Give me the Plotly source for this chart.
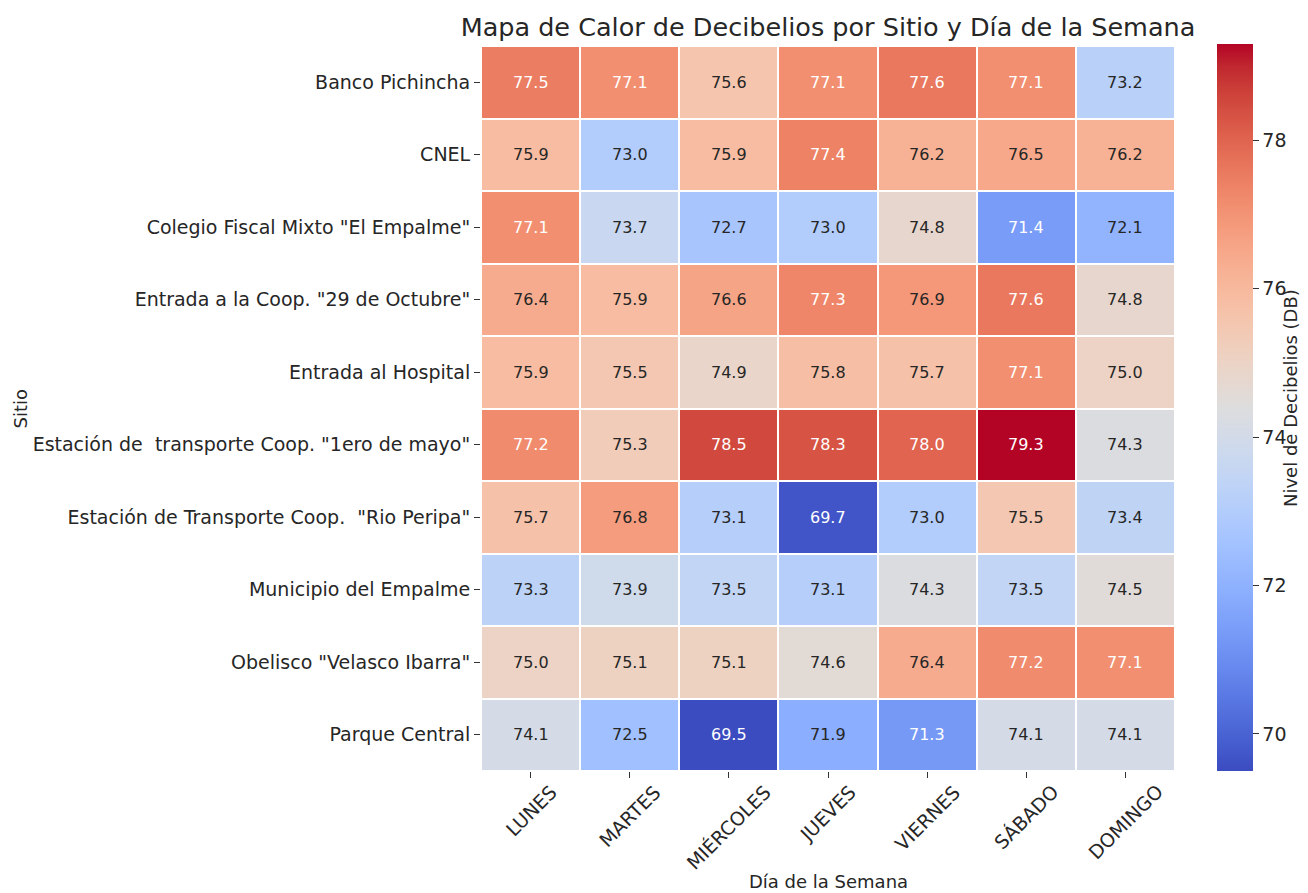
import plotly.graph_objects as go

sitios = [
    "Banco Pichincha",
    "CNEL",
    'Colegio Fiscal Mixto "El Empalme"',
    'Entrada a la Coop. "29 de Octubre"',
    "Entrada al Hospital",
    'Estación de  transporte Coop. "1ero de mayo"',
    'Estación de Transporte Coop.  "Rio Peripa"',
    "Municipio del Empalme",
    'Obelisco "Velasco Ibarra"',
    "Parque Central",
]
dias = ["LUNES", "MARTES", "MIÉRCOLES", "JUEVES", "VIERNES", "SÁBADO", "DOMINGO"]

banco_pichincha = [77.5, 77.1, 75.6, 77.1, 77.6, 77.1, 73.2]
cnel = [75.9, 73.0, 75.9, 77.4, 76.2, 76.5, 76.2]
colegio_fiscal = [77.1, 73.7, 72.7, 73.0, 74.8, 71.4, 72.1]
entrada_coop_29 = [76.4, 75.9, 76.6, 77.3, 76.9, 77.6, 74.8]
entrada_hospital = [75.9, 75.5, 74.9, 75.8, 75.7, 77.1, 75.0]
estacion_1ero_mayo = [77.2, 75.3, 78.5, 78.3, 78.0, 79.3, 74.3]
estacion_rio_peripa = [75.7, 76.8, 73.1, 69.7, 73.0, 75.5, 73.4]
municipio = [73.3, 73.9, 73.5, 73.1, 74.3, 73.5, 74.5]
obelisco = [75.0, 75.1, 75.1, 74.6, 76.4, 77.2, 77.1]
parque_central = [74.1, 72.5, 69.5, 71.9, 71.3, 74.1, 74.1]

z = [banco_pichincha, cnel, colegio_fiscal, entrada_coop_29, entrada_hospital,
     estacion_1ero_mayo, estacion_rio_peripa, municipio, obelisco, parque_central]

coolwarm = [
    (59, 76, 192), (68, 90, 204), (77, 104, 215), (87, 117, 225), (98, 130, 234),
    (108, 142, 241), (119, 154, 247), (130, 165, 251), (141, 176, 254), (152, 185, 255),
    (163, 194, 255), (174, 201, 253), (184, 208, 249), (194, 213, 244), (204, 217, 238),
    (213, 219, 230), (221, 221, 221), (229, 216, 209), (236, 211, 197), (241, 204, 184),
    (245, 196, 172), (247, 187, 160), (247, 177, 148), (247, 166, 136), (244, 154, 123),
    (241, 141, 111), (236, 127, 99), (229, 112, 88), (222, 96, 77), (213, 80, 66),
    (203, 62, 56), (192, 40, 47), (180, 4, 38),
]
n = len(coolwarm) - 1
colorscale = [[i / n, "rgb(%d,%d,%d)" % c] for i, c in enumerate(coolwarm)]

flat = [v for row in z for v in row]
zmin, zmax = min(flat), max(flat)


def cell_rgb(v):
    t = (v - zmin) / (zmax - zmin) * n
    i = min(int(t), n - 1)
    f = t - i
    a, b = coolwarm[i], coolwarm[i + 1]
    return [(a[k] + (b[k] - a[k]) * f) / 255 for k in range(3)]


def lum(rgb):
    out = []
    for c in rgb:
        out.append(c / 12.92 if c <= 0.03928 else ((c + 0.055) / 1.055) ** 2.4)
    return 0.2126 * out[0] + 0.7152 * out[1] + 0.0722 * out[2]


FONT = "DejaVu Sans"
TXT = "#262626"

W, H = 1300, 885
L, T, PW, PH = 473, 38, 694, 725

fig = go.Figure()
fig.add_trace(go.Heatmap(
    z=z, x=dias, y=sitios,
    colorscale=colorscale, zmin=zmin, zmax=zmax,
    xgap=2, ygap=2,
    hoverongaps=False,
    colorbar=dict(
        x=(1209 - L) / PW, xanchor="left", xpad=0,
        y=(T + PH - 763) / PH, yanchor="bottom", ypad=0,
        len=(763 - 36) / PH, lenmode="fraction", thickness=36,
        outlinewidth=0,
        tickvals=[70, 72, 74, 76, 78],
        ticks="outside", ticklen=6, tickwidth=1, tickcolor="#333",
        tickfont=dict(family=FONT, size=19, color=TXT),
    ),
))

annotations = []
for r, site in enumerate(sitios):
    for c, day in enumerate(dias):
        v = z[r][c]
        color = "white" if lum(cell_rgb(v)) < 0.408 else TXT
        annotations.append(dict(
            x=day, y=site, text="%.1f" % v, showarrow=False,
            font=dict(family=FONT, size=16, color=color),
        ))

# rotated x tick labels, centred under each tick (matplotlib style)
for day in dias:
    annotations.append(dict(
        x=day, xref="x", yref="paper", y=(T + PH - 770) / PH,
        text=day, textangle=-45, showarrow=False,
        xanchor="center", yanchor="top",
        font=dict(family=FONT, size=19, color=TXT),
    ))

annotations.append(dict(
    text="Sitio", xref="paper", yref="paper",
    x=(12 - L) / PW, y=0.5, xanchor="center", yanchor="middle",
    textangle=-90, showarrow=False,
    font=dict(family=FONT, size=18, color=TXT),
))
annotations.append(dict(
    text="Día de la Semana", xref="paper", yref="paper",
    x=0.5, y=(T + PH - 874) / PH, xanchor="center", yanchor="middle",
    showarrow=False,
    font=dict(family=FONT, size=18, color=TXT),
))
annotations.append(dict(
    text="Nivel de Decibelios (DB)", xref="paper", yref="paper",
    x=(1283 - L) / PW, y=(T + PH - 390) / PH, xanchor="center", yanchor="middle",
    textangle=-90, showarrow=False,
    font=dict(family=FONT, size=18, color=TXT),
))

fig.update_layout(
    width=W, height=H,
    margin=dict(l=L, r=W - L - PW, t=T, b=H - T - PH, autoexpand=False),
    paper_bgcolor="white", plot_bgcolor="white",
    font=dict(family=FONT, color=TXT),
    title=dict(text="Mapa de Calor de Decibelios por Sitio y Día de la Semana",
               x=820 / W, xanchor="center", y=1 - 19 / H, yanchor="middle",
               font=dict(family=FONT, size=25.5, color=TXT)),
    annotations=annotations,
    xaxis=dict(
        showticklabels=False, ticks="outside", ticklen=6, tickcolor="#333",
        showgrid=False, zeroline=False, showline=False,
    ),
    yaxis=dict(
        autorange="reversed", ticks="outside", ticklen=6, tickcolor="#333",
        tickfont=dict(family=FONT, size=19, color=TXT),
        showgrid=False, zeroline=False, showline=False,
    ),
)

fig.write_html("out.html")
